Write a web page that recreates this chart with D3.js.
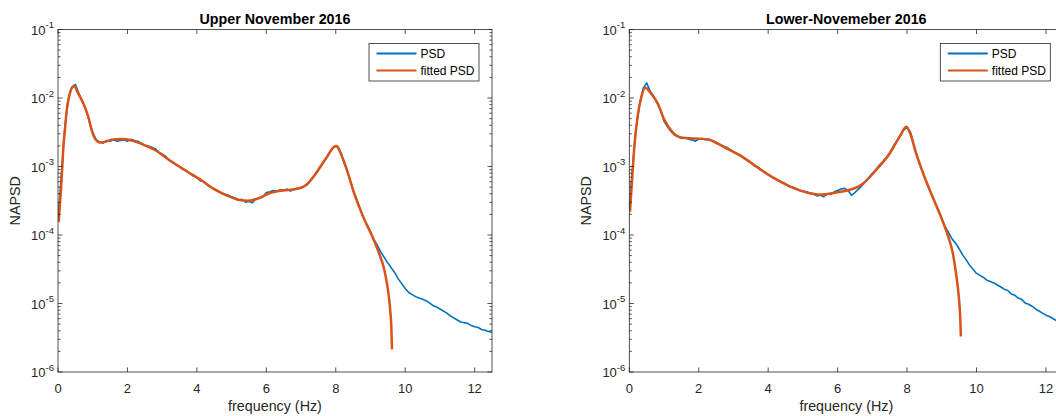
<!DOCTYPE html>
<html>
<head>
<meta charset="utf-8">
<script src="https://cdn.jsdelivr.net/npm/d3@7"></script>
<style>
  html, body { margin: 0; padding: 0; background: #fff; }
  svg { display: block; font-family: "Liberation Sans", Arial, Helvetica, sans-serif; }
</style>
</head>
<body>
<svg id="chart" width="1056" height="416"></svg>
<script>
// Panel titles
const panelTitles = ["Upper November 2016", "Lower-Novemeber 2016"];
const seriesNames = ["PSD", "fitted PSD"];

// Measured PSD, sampled every 0.1 Hz starting at 0 Hz
const psdStepHz = 0.1;
const psdUpper = [
  1.58e-4, 7.94e-4, 3.98e-3, 9.55e-3, 1.45e-2, 1.58e-2, 1.17e-2, 9.12e-3, 6.92e-3, 4.57e-3,
  3.16e-3, 2.45e-3, 2.29e-3, 2.19e-3, 2.40e-3, 2.34e-3, 2.45e-3, 2.34e-3, 2.40e-3, 2.45e-3,
  2.34e-3, 2.51e-3, 2.40e-3, 2.34e-3, 2.19e-3, 2.04e-3, 2.00e-3, 1.91e-3, 1.82e-3, 1.62e-3,
  1.51e-3, 1.41e-3, 1.23e-3, 1.17e-3, 1.07e-3, 1.00e-3, 9.12e-4, 8.71e-4, 7.94e-4, 7.24e-4,
  6.92e-4, 6.17e-4, 6.03e-4, 5.37e-4, 5.01e-4, 4.68e-4, 4.47e-4, 4.07e-4, 3.98e-4, 3.80e-4,
  3.63e-4, 3.47e-4, 3.24e-4, 3.31e-4, 3.02e-4, 3.09e-4, 2.95e-4, 3.39e-4, 3.47e-4, 3.63e-4,
  4.17e-4, 4.27e-4, 4.47e-4, 4.37e-4, 4.57e-4, 4.47e-4, 4.68e-4, 4.37e-4, 4.68e-4, 4.79e-4,
  4.90e-4, 5.25e-4, 5.62e-4, 6.46e-4, 7.59e-4, 9.12e-4, 1.10e-3, 1.26e-3, 1.51e-3, 1.82e-3,
  2.00e-3, 1.82e-3, 1.32e-3, 9.55e-4, 6.76e-4, 4.47e-4, 3.31e-4, 2.40e-4, 1.78e-4, 1.38e-4,
  1.10e-4, 8.51e-5, 7.08e-5, 5.62e-5, 4.68e-5, 3.89e-5, 3.31e-5, 2.82e-5, 2.29e-5, 1.95e-5,
  1.66e-5, 1.45e-5, 1.35e-5, 1.26e-5, 1.20e-5, 1.15e-5, 1.10e-5, 1.02e-5, 9.33e-6, 8.91e-6,
  8.32e-6, 7.76e-6, 7.24e-6, 6.61e-6, 6.17e-6, 5.75e-6, 5.37e-6, 5.25e-6, 5.13e-6, 4.79e-6,
  4.57e-6, 4.47e-6, 4.17e-6, 4.07e-6, 3.89e-6, 3.80e-6
];
const psdLower = [
  2.40e-4, 1.05e-3, 3.80e-3, 8.32e-3, 1.38e-2, 1.66e-2, 1.26e-2, 1.07e-2, 8.51e-3, 6.61e-3,
  4.57e-3, 3.80e-3, 3.24e-3, 2.88e-3, 2.75e-3, 2.57e-3, 2.63e-3, 2.51e-3, 2.45e-3, 2.34e-3,
  2.51e-3, 2.57e-3, 2.45e-3, 2.51e-3, 2.34e-3, 2.19e-3, 2.09e-3, 2.00e-3, 1.91e-3, 1.78e-3,
  1.62e-3, 1.55e-3, 1.45e-3, 1.32e-3, 1.23e-3, 1.15e-3, 1.02e-3, 9.77e-4, 8.91e-4, 8.13e-4,
  7.59e-4, 7.08e-4, 6.61e-4, 6.17e-4, 5.89e-4, 5.62e-4, 5.13e-4, 5.01e-4, 4.79e-4, 4.47e-4,
  4.37e-4, 4.27e-4, 4.07e-4, 3.98e-4, 3.72e-4, 3.80e-4, 3.63e-4, 3.98e-4, 3.89e-4, 4.27e-4,
  4.47e-4, 4.68e-4, 4.79e-4, 4.47e-4, 3.80e-4, 4.17e-4, 4.68e-4, 5.25e-4, 6.03e-4, 6.92e-4,
  7.94e-4, 8.91e-4, 1.05e-3, 1.17e-3, 1.35e-3, 1.58e-3, 1.95e-3, 2.34e-3, 2.82e-3, 3.39e-3,
  3.72e-3, 3.16e-3, 2.00e-3, 1.38e-3, 9.77e-4, 7.08e-4, 5.25e-4, 3.98e-4, 3.02e-4, 2.29e-4,
  1.74e-4, 1.32e-4, 1.07e-4, 8.71e-5, 7.59e-5, 6.31e-5, 5.13e-5, 4.37e-5, 3.63e-5, 3.16e-5,
  2.75e-5, 2.57e-5, 2.40e-5, 2.19e-5, 2.09e-5, 2.00e-5, 1.86e-5, 1.74e-5, 1.62e-5, 1.55e-5,
  1.38e-5, 1.32e-5, 1.20e-5, 1.15e-5, 1.02e-5, 9.77e-6, 9.12e-6, 8.32e-6, 7.76e-6, 7.24e-6,
  6.76e-6, 6.46e-6, 6.03e-6, 5.62e-6, 5.37e-6, 5.01e-6
];

// Fitted spectra (frequency in Hz, NAPSD)
const fitFreqUpper = [
  0.02, 0.09, 0.125, 0.155, 0.20, 0.25, 0.32, 0.39, 0.47, 0.58, 0.73, 0.87, 0.97, 1.06, 1.21,
  1.35, 1.54, 1.83, 2.12, 2.40, 2.79, 3.27, 3.74, 4.18, 4.46, 4.85, 5.23, 5.47, 5.80, 6.09,
  6.47, 6.86, 7.15, 7.43, 7.72, 7.96, 8.03, 8.10, 8.30, 8.53, 8.77, 9.06, 9.25, 9.40, 9.49,
  9.56, 9.60, 9.62
];
const fitUpper = [
  1.55e-4, 5.01e-4, 1.00e-3, 1.95e-3, 3.39e-3, 6.61e-3, 1.05e-2, 1.38e-2, 1.48e-2, 1.17e-2,
  8.32e-3, 5.37e-3, 3.39e-3, 2.57e-3, 2.24e-3, 2.29e-3, 2.45e-3, 2.51e-3, 2.40e-3, 2.14e-3,
  1.74e-3, 1.17e-3, 8.32e-4, 6.03e-4, 4.79e-4, 3.80e-4, 3.24e-4, 3.16e-4, 3.47e-4, 4.07e-4,
  4.47e-4, 4.68e-4, 5.37e-4, 7.94e-4, 1.32e-3, 1.95e-3, 2.00e-3, 1.74e-3, 9.55e-4, 4.07e-4,
  1.95e-4, 9.33e-5, 5.37e-5, 3.09e-5, 1.74e-5, 8.91e-6, 4.57e-6, 2.14e-6
];
const fitFreqLower = [
  0.02, 0.08, 0.145, 0.24, 0.34, 0.46, 0.62, 0.82, 1.01, 1.25, 1.53, 1.92, 2.30, 2.78, 3.26,
  3.74, 4.17, 4.62, 5.20, 5.48, 5.96, 6.35, 6.73, 7.11, 7.50, 7.78, 7.98, 8.10, 8.26, 8.50,
  8.74, 8.98, 9.17, 9.32, 9.41, 9.49, 9.53, 9.55
];
const fitLower = [
  2.19e-4, 6.31e-4, 1.95e-3, 5.37e-3, 1.00e-2, 1.41e-2, 1.17e-2, 8.32e-3, 4.79e-3, 3.16e-3,
  2.63e-3, 2.57e-3, 2.45e-3, 1.86e-3, 1.38e-3, 9.33e-4, 6.76e-4, 5.13e-4, 4.07e-4, 3.89e-4,
  4.17e-4, 4.57e-4, 5.62e-4, 8.91e-4, 1.55e-3, 2.69e-3, 3.80e-3, 2.95e-3, 1.55e-3, 7.08e-4,
  3.55e-4, 1.82e-4, 1.00e-4, 5.37e-5, 2.75e-5, 1.26e-5, 6.46e-6, 3.31e-6
];

// Axis ticks
const xTickValues = [0, 2, 4, 6, 8, 10, 12];
const yTickExponents = [-1, -2, -3, -4, -5, -6];

const colors = { psd: "#0072BD", fit: "#D95319", axis: "#262626" };

const svg = d3.select("#chart");
svg.append("rect").attr("width", 1056).attr("height", 416).attr("fill", "#fff");

function drawPanel(idx, left, title, psd, fitF, fitV) {
  const width = 434, top = 29.5, bottom = 372;
  const x = d3.scaleLinear().domain([0, 12.5]).range([left, left + width]);
  const y = d3.scaleLog().domain([1e-6, 1e-1]).range([bottom, top]);
  const g = svg.append("g");

  const clipId = "clip" + idx;
  g.append("clipPath").attr("id", clipId)
    .append("rect").attr("x", left).attr("y", top).attr("width", width).attr("height", bottom - top);

  const plot = g.append("g").attr("clip-path", `url(#${clipId})`);
  const psdPoints = psd.map((v, i) => [i * psdStepHz, v]);
  const line = d3.line().x(d => x(d[0])).y(d => y(d[1]));
  plot.append("path")
    .attr("d", line(psdPoints))
    .attr("fill", "none").attr("stroke", colors.psd).attr("stroke-width", 1.6)
    .attr("stroke-linejoin", "round");
  const fitLine = d3.line().x(d => x(d[0])).y(d => y(d[1])).curve(d3.curveMonotoneX);
  plot.append("path")
    .attr("d", fitLine(fitF.map((f, i) => [f, fitV[i]])))
    .attr("fill", "none").attr("stroke", colors.fit).attr("stroke-width", 2.5)
    .attr("stroke-linejoin", "round").attr("stroke-linecap", "butt");

  // Box
  const axisG = g.append("g").attr("stroke", colors.axis).attr("stroke-width", 0.8).attr("fill", "none");
  axisG.append("rect").attr("x", left).attr("y", top).attr("width", width).attr("height", bottom - top);

  // X ticks (bottom and top, pointing inward)
  xTickValues.forEach(t => {
    const px = x(t);
    axisG.append("line").attr("x1", px).attr("x2", px).attr("y1", bottom).attr("y2", bottom - 4.5);
    axisG.append("line").attr("x1", px).attr("x2", px).attr("y1", top).attr("y2", top + 4.5);
    g.append("text").attr("x", px).attr("y", 392.5).attr("text-anchor", "middle")
      .attr("font-size", 13).attr("fill", colors.axis).text(t);
  });

  // Y major and minor ticks on both sides
  yTickExponents.forEach(e => {
    const base = Math.pow(10, e);
    const py = y(base);
    axisG.append("line").attr("x1", left).attr("x2", left + 4.5).attr("y1", py).attr("y2", py);
    axisG.append("line").attr("x1", left + width).attr("x2", left + width - 4.5).attr("y1", py).attr("y2", py);
    if (e > -6) {
      for (let m = 2; m <= 9; m++) {
        const my = y(base * m / 10);
        axisG.append("line").attr("x1", left).attr("x2", left + 2.5).attr("y1", my).attr("y2", my);
        axisG.append("line").attr("x1", left + width).attr("x2", left + width - 2.5).attr("y1", my).attr("y2", my);
      }
    }
    const label = g.append("text").attr("x", left - 4).attr("y", py + 5)
      .attr("text-anchor", "end").attr("font-size", 13).attr("fill", colors.axis);
    label.append("tspan").text("10");
    label.append("tspan").attr("dy", -6.5).attr("font-size", 9.5).text(String(e));
  });

  // Title and axis labels
  g.append("text").attr("x", left + width / 2).attr("y", 23.5).attr("text-anchor", "middle")
    .attr("font-size", 14.3).attr("font-weight", "bold").attr("fill", "#000").text(title);
  g.append("text").attr("x", left + width / 2).attr("y", 410.5).attr("text-anchor", "middle")
    .attr("font-size", 14.3).attr("fill", colors.axis).text("frequency (Hz)");
  g.append("text").attr("transform", `translate(${left - 38},${(top + bottom) / 2}) rotate(-90)`)
    .attr("text-anchor", "middle").attr("font-size", 14.3).attr("fill", colors.axis).text("NAPSD");

  // Legend
  const lx = left + 311, ly = 43.5;
  const leg = g.append("g");
  leg.append("rect").attr("x", lx).attr("y", ly).attr("width", 110).attr("height", 37.5)
    .attr("fill", "#fff").attr("stroke", colors.axis).attr("stroke-width", 0.8);
  [colors.psd, colors.fit].forEach((c, i) => {
    const ry = ly + 10 + i * 17;
    leg.append("line").attr("x1", lx + 7.5).attr("x2", lx + 47.5).attr("y1", ry).attr("y2", ry)
      .attr("stroke", c).attr("stroke-width", 2);
    leg.append("text").attr("x", lx + 51.5).attr("y", ry + 4.3).attr("font-size", 12)
      .attr("fill", "#000").text(seriesNames[i]);
  });
}

drawPanel(0, 58, panelTitles[0], psdUpper, fitFreqUpper, fitUpper);
drawPanel(1, 629.3, panelTitles[1], psdLower, fitFreqLower, fitLower);
</script>
</body>
</html>
